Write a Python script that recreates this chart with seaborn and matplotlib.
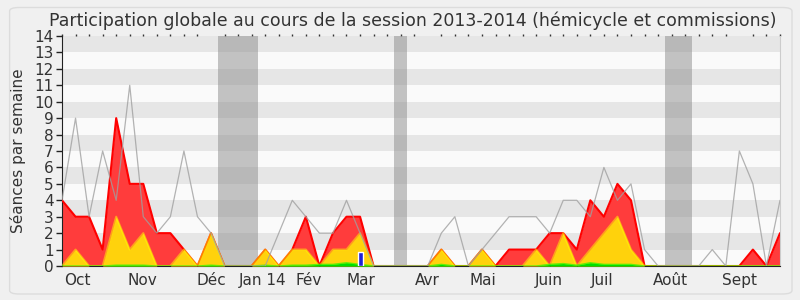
import numpy as np
import pandas as pd
import matplotlib
matplotlib.use("Agg")
import matplotlib.pyplot as plt
from matplotlib.patches import FancyBboxPatch
import seaborn as sns

# weekly values (index = week number of the session)
total = [4, 3, 3, 1, 9, 5, 5, 2, 2, 1, 0, 2, 0, 0, 0, 1, 0, 1, 3, 0,
         2, 3, 3, 0, 0, 0, 0, 0, 1, 0, 0, 1, 0, 1, 1, 1, 2, 2, 1, 4,
         3, 5, 4, 0, 0, 0, 0, 0, 0, 0, 0, 1, 0, 2]
commissions = [0, 1, 0, 0, 3, 1, 2, 0, 0, 1, 0, 2, 0, 0, 0, 1, 0, 1, 1, 0,
               1, 1, 2, 0, 0, 0, 0, 0, 1, 0, 0, 1, 0, 0, 0, 1, 0, 2, 0, 1,
               2, 3, 1, 0, 0, 0, 0, 0, 0, 0, 0, 0, 0, 0]
hemicycle = [0, 0, 0, 0, 0.05, 0.05, 0.05, 0, 0, 0, 0, 0.05, 0, 0, 0, 0.05, 0, 0.05, 0.05, 0.1,
             0.1, 0.2, 0.1, 0, 0, 0, 0, 0, 0.1, 0, 0, 0, 0, 0, 0, 0, 0.1, 0.15, 0.05, 0.2,
             0.1, 0.1, 0.1, 0, 0, 0, 0, 0, 0, 0, 0, 0, 0, 0]
median_deputes = [4, 9, 3, 7, 4, 11, 3, 2, 3, 7, 3, 2, 0, 0, 0, 0, 2, 4, 3, 2,
                  2, 4, 2, 0, 0, 0, 0, 0, 2, 3, 0, 1, 2, 3, 3, 3, 2, 4, 4, 3,
                  6, 4, 5, 1, 0, 0, 0, 0, 1, 0, 7, 5, 0, 4]
questions_week = [22]
questions_val = [0.85]
vacances = [(11.5, 14.5), (24.5, 25.5), (44.5, 46.5)]
month_labels = ["Oct", "Nov", "Déc", "Jan 14", "Fév", "Mar", "Avr", "Mai", "Juin", "Juil", "Août", "Sept"]
month_pos = [1.1, 5.9, 11.0, 14.8, 18.2, 22.1, 27.0, 31.1, 35.9, 39.9, 44.9, 50.0]

weeks = np.arange(len(total))
df = pd.DataFrame({"semaine": weeks, "total": total, "commissions": commissions,
                   "hemicycle": hemicycle, "mediane": median_deputes})

sns.set_style("white")
plt.rcParams['font.family'] = ['DejaVu Sans']

fig = plt.figure(figsize=(8, 3), dpi=100)
fig.patch.set_facecolor("#f0f0f0")
fig.patches.append(FancyBboxPatch((0.012, 0.02), 0.978, 0.955, boxstyle="round,pad=0,rounding_size=0.012",
                                  transform=fig.transFigure, facecolor="#f0f0f0",
                                  edgecolor="#dcdcdc", linewidth=1.0, zorder=-10))
ax = fig.add_axes([0.0775, 0.1133, 0.8975, 0.7667])
ax.set_facecolor("#fafafa")

# horizontal stripes
for k in range(1, 14, 2):
    ax.axhspan(k, k + 1, color="#e6e6e6", zorder=0, lw=0)
# holidays
for a, b in vacances:
    ax.axvspan(a, b, color="#8c8c8c", alpha=0.5, zorder=1, lw=0)

ax.fill_between(df.semaine, 0, df.total, color="#ff3c3c", lw=0, zorder=2)
sns.lineplot(data=df, x="semaine", y="total", color="#ff0000", lw=1.5, ax=ax, zorder=3)
ax.fill_between(df.semaine, 0, df.commissions, color="#ffd20c", lw=0, zorder=4)
sns.lineplot(data=df, x="semaine", y="commissions", color="#ffff00", alpha=0.5, lw=1.5, ax=ax, zorder=5)
ax.fill_between(df.semaine, 0, df.hemicycle, color="#00e000", lw=0, zorder=6)
sns.lineplot(data=df, x="semaine", y="hemicycle", color="#00ff00", alpha=0.6, lw=1.0, ax=ax, zorder=6)
ax.bar(questions_week, questions_val, width=0.37, color="#1f1fd6", zorder=7)
sns.lineplot(data=df, x="semaine", y="mediane", color="#a0a0a0", lw=0.9, alpha=0.8, ax=ax, zorder=8)

ax.set_xlim(0, len(total) - 1)
ax.set_ylim(0, 14)
ax.set_yticks(range(0, 15))
ax.set_xticks(weeks, minor=True)
ax.set_xticks(month_pos)
ax.set_xticklabels(month_labels)
ax.tick_params(axis="x", which="major", length=0, labelsize=11, pad=5, colors="#333333")
ax.tick_params(axis="x", which="minor", length=5, width=1, color="#222222", direction="out",
               top=True)
ax.tick_params(axis="y", length=4, width=1, color="#222222", labelsize=11, pad=2, labelcolor="#333333", direction="out", left=True)
ax.set_xlabel("")
ax.set_ylabel("Séances par semaine", fontsize=11, color="#333333", labelpad=6)
ax.spines["top"].set_visible(False)
ax.spines["right"].set_color("#cccccc")
ax.spines["left"].set_color("#222222")
ax.spines["bottom"].set_color("#222222")
for t in ax.xaxis.get_minor_ticks():
    t.tick2line.set_markersize(1.5)
    t.tick2line.set_markeredgecolor("#333333")

fig.text(0.5157, 0.913, "Participation globale au cours de la session 2013-2014 (hémicycle et commissions)",
         ha="center", va="baseline", fontsize=12.5, color="#333333")

fig.savefig("out.png", dpi=100, facecolor=fig.get_facecolor())
